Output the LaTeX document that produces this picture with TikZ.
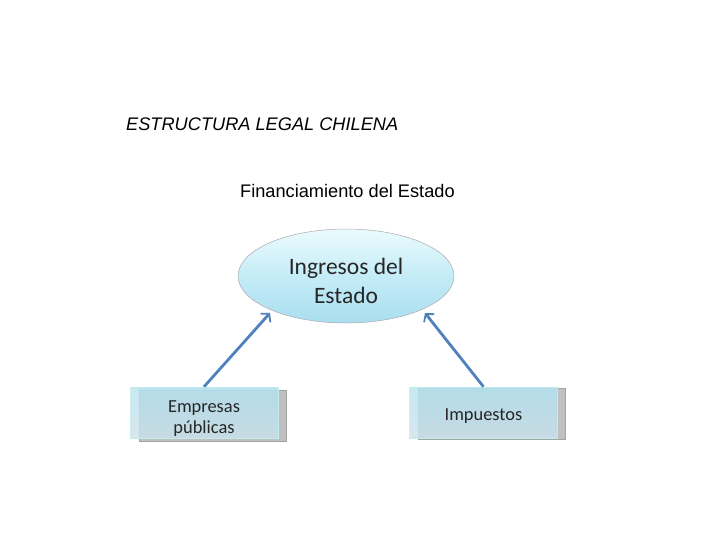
\documentclass[tikz,border=0pt]{standalone}
\usepackage{fontspec}
\setmainfont{Liberation Sans}
\newfontfamily\calib{Carlito}
\usetikzlibrary{arrows.meta,shapes.geometric}
\definecolor{arrblue}{RGB}{79,129,189}
\definecolor{elltop}{RGB}{236,250,253}
\definecolor{ellmid}{RGB}{196,236,247}
\definecolor{ellbot}{RGB}{170,222,240}
\definecolor{boxtop}{RGB}{178,224,238}
\definecolor{boxbot}{RGB}{200,222,232}
\definecolor{backgray}{RGB}{140,140,140}
\definecolor{edgegray}{RGB}{170,170,170}
\newcommand{\downstrut}[1]{\rule{0pt}{#1}}
\tikzset{
  x=1pt, y=1pt,
  ttl/.style={font=\fontsize{18.2}{21}\selectfont, inner sep=0pt, anchor=base west},
  ellnode/.style={ellipse, minimum width=216pt, minimum height=94pt, draw=edgegray, line width=0.5pt,
     top color=elltop, bottom color=ellbot, middle color=ellmid, align=center,
     font=\calib\fontsize{23.5}{29}\selectfont, text=black!85},
  backbox/.style={rectangle, draw=backgray!80, fill=backgray!55, minimum width=147pt, minimum height=51pt, inner sep=0pt},
  frontbox/.style={rectangle, draw=edgegray!60!cyan!40, line width=0.5pt, top color=boxtop, bottom color=boxbot,
     fill opacity=0.9, text opacity=1, minimum width=148pt, minimum height=51pt, align=center,
     font=\calib\fontsize{18.4}{21.5}\selectfont, text=black!85, inner sep=0pt},
  stripbox/.style={rectangle, fill=white, fill opacity=0.2, draw=none, minimum width=9pt, minimum height=50pt, inner sep=0pt},
  arr/.style={draw=arrblue, line width=2.8pt, -{Straight Barb[length=5.5pt,width=13pt,line width=1.8pt]}}
}
\begin{document}
\begin{tikzpicture}
\useasboundingbox (0,0) rectangle (728,-546);
\node[ttl, font=\itshape\fontsize{18.2}{21}\selectfont] (title) at (126,-130) {ESTRUCTURA LEGAL CHILENA};
\node[ttl] (sub) at (240,-197) {Financiamiento del Estado};
\node[ellnode] (ell) at (346,-276) {\downstrut{27pt}Ingresos del\\Estado};
% left box
\node[backbox] (b1back) at (212.5,-416) {};
\node[frontbox] (b1) at (204,-412.5) {\downstrut{24pt}Empresas\\públicas};
\node[stripbox] (b1strip) at (134.5,-412.5) {};
% right box
\node[backbox] (b2back) at (492,-414) {};
\node[frontbox] (b2) at (483.5,-412.5) {\downstrut{19pt}Impuestos};
\node[stripbox] (b2strip) at (413.5,-412.5) {};
\coordinate (t1) at (270,-313);
\coordinate (t2) at (425,-313);
\draw[arr] (b1.north) -- (t1);
\draw[arr] (b2.north) -- (t2);
\end{tikzpicture}
\end{document}
